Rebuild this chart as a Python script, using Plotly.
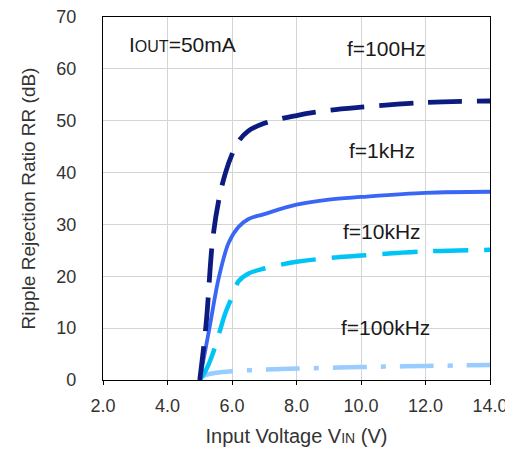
import plotly.graph_objects as go

# ---- data ----
vin_100hz = [5.0, 5.2, 5.4, 5.6, 5.8, 6.0, 6.2, 6.5, 7.0, 8.0, 9.0, 10.0, 12.0, 14.0]
rr_100hz = [0.0, 11.0, 27.0, 35.0, 40.0, 43.5, 46.0, 48.0, 49.5, 51.0, 52.0, 52.6, 53.5, 53.8]

vin_1khz = [5.0, 5.3, 5.6, 5.9, 6.2, 6.5, 7.0, 8.0, 9.0, 10.0, 12.0, 14.0]
rr_1khz = [0.0, 10.0, 20.0, 26.5, 29.5, 31.0, 32.0, 33.8, 34.8, 35.3, 36.1, 36.3]

vin_10khz = [5.0, 5.2, 5.4, 5.6, 5.8, 6.0, 6.2, 6.5, 7.0, 8.0, 9.0, 10.0, 12.0, 14.0]
rr_10khz = [0.0, 2.0, 5.0, 9.0, 13.0, 16.0, 19.0, 20.5, 21.5, 22.8, 23.5, 24.0, 24.8, 25.1]

vin_100khz = [5.0, 5.2, 5.5, 6.0, 7.0, 8.0, 10.0, 12.0, 14.0]
rr_100khz = [0.5, 1.0, 1.4, 1.7, 2.0, 2.2, 2.5, 2.7, 2.9]

x_ticks = [2, 4, 6, 8, 10, 12, 14]
x_tick_labels = ["2.0", "4.0", "6.0", "8.0", "10.0", "12.0", "14.0"]
y_ticks = [0, 10, 20, 30, 40, 50, 60, 70]

series_labels = ["f=100Hz", "f=1kHz", "f=10kHz", "f=100kHz"]
label_x = [10.8, 10.65, 10.65, 10.77]
label_y = [64.0, 44.2, 28.7, 10.1]

FONT = "Liberation Sans, Arial, sans-serif"

fig = go.Figure()
fig.add_trace(go.Scatter(x=vin_100khz, y=rr_100khz, mode="lines", line_shape="spline",
                         line=dict(color="#99CCFF", width=4.5, dash="34px,14px,5px,14px")))
fig.add_trace(go.Scatter(x=vin_10khz, y=rr_10khz, mode="lines", line_shape="spline",
                         line=dict(color="#00C4F5", width=4.5, dash="35px,16px")))
fig.add_trace(go.Scatter(x=vin_1khz, y=rr_1khz, mode="lines", line_shape="spline",
                         line=dict(color="#3A66F5", width=3.8)))
fig.add_trace(go.Scatter(x=vin_100hz, y=rr_100hz, mode="lines", line_shape="spline",
                         line=dict(color="#0B1B7F", width=4.8, dash="34px,15px")))

for t, xx, yy in zip(series_labels, label_x, label_y):
    fig.add_annotation(x=xx, y=yy, text=t, showarrow=False, xanchor="center", yanchor="middle",
                       font=dict(family=FONT, size=21, color="#1a1a1a"))

fig.add_annotation(x=2.75, y=64.7, text="I<span style='font-size:16px'>OUT</span>=50mA",
                   showarrow=False, xanchor="left", yanchor="middle",
                   font=dict(family=FONT, size=21, color="#1a1a1a"))

# page body has an 8px margin, so the figure is sized/offset to compensate
fig.update_layout(
    width=505, height=441,
    margin=dict(l=95, r=23, t=9, b=69, autoexpand=False),
    paper_bgcolor="white", plot_bgcolor="white",
    showlegend=False,
    font=dict(family=FONT, size=16, color="#333333"),
)
fig.update_xaxes(
    range=[2, 14], tickvals=x_ticks, ticktext=x_tick_labels,
    showgrid=True, gridcolor="#D4D4D4", gridwidth=1,
    showline=True, linecolor="black", linewidth=1.2, mirror=True,
    ticks="outside", ticklen=4, tickcolor="black", ticklabelstandoff=5,
    ticklabeloverflow="allow",
    tickfont=dict(family=FONT, size=18, color="#333333"),
    title=dict(text="Input Voltage V<span style='font-size:14px'>IN</span> (V)",
               font=dict(family=FONT, size=20, color="#333333"), standoff=14),
    zeroline=False, automargin=False,
)
fig.update_yaxes(
    range=[0, 70], tickvals=y_ticks,
    showgrid=True, gridcolor="#D4D4D4", gridwidth=1,
    showline=True, linecolor="black", linewidth=1.2, mirror=True,
    ticks="outside", ticklen=0, tickcolor="rgba(0,0,0,0)", ticklabelstandoff=22,
    ticklabeloverflow="allow",
    tickfont=dict(family=FONT, size=18, color="#333333"),
    title=dict(text="Ripple Rejection Ratio RR (dB)",
               font=dict(family=FONT, size=19, color="#333333"), standoff=15),
    zeroline=False, automargin=False,
)

fig.write_html("out.html")
